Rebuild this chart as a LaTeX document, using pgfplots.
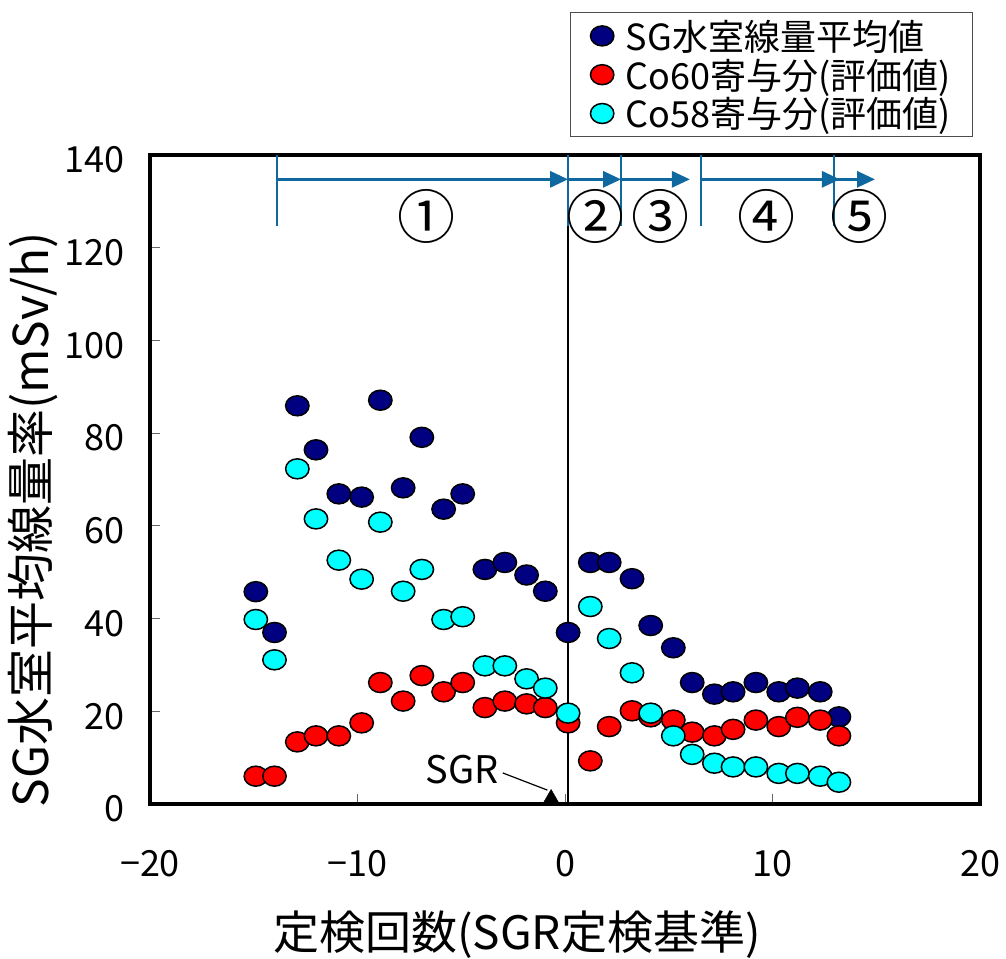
\documentclass[border=0pt]{standalone}
\usepackage{fontspec}
\setmainfont{Noto Sans CJK JP}
\usepackage{pgfplots}
\pgfplotsset{compat=1.18}
\usetikzlibrary{arrows.meta}
\definecolor{navyc}{RGB}{0,0,128}
\definecolor{redc}{RGB}{255,0,0}
\definecolor{cyanc}{RGB}{0,255,255}
\definecolor{arrblue}{RGB}{16,104,160}
\begin{document}
\begin{tikzpicture}
\path[use as bounding box] (-150pt,-154pt) rectangle (856pt,804pt);
\begin{axis}[
  at={(0pt,0pt)}, anchor=south west,
  scale only axis, width=830pt, height=649pt,
  xmin=-20, xmax=20, ymin=0, ymax=140,
  clip=false,
  xtick={-20,-10,0,10,20}, xticklabels={−20,−10,0,10,20},
  ytick={0,20,40,60,80,100,120,140},
  yticklabels={0,20,40,60,80,100,120,140},
  tick align=inside, xtick pos=bottom, ytick pos=left,
  major tick length=10pt,
  tick style={line width=1pt, black!60},
  axis line style={line width=3.5pt},
  xticklabel style={anchor=center, yshift=-60pt, font=\fontsize{36}{40}\selectfont},
  yticklabel style={anchor=east, inner sep=0pt, xshift=-25pt, yshift=-5pt, font=\fontsize{36}{40}\selectfont},
  xlabel={定検回数(SGR定検基準)},
  ylabel={SG水室平均線量率(mSv/h)},
  xlabel style={at={(axis description cs:0.442,-0.2018)}, anchor=center, font=\fontsize{46}{50}\selectfont},
  ylabel style={at={(axis description cs:-0.1415,0.4376)}, anchor=center, font=\fontsize{48}{52}\selectfont},
  legend style={at={(axis description cs:0.506,1.2203)}, anchor=north west,
    draw=black!70, line width=1pt, font=\fontsize{36}{40}\selectfont,
    inner xsep=20pt, inner ysep=4pt, row sep=0pt,
    nodes={inner ysep=3.5pt},
    /tikz/every odd column/.append style={column sep=10pt}},
  legend cell align=left,
]
\addplot[only marks, mark=*, mark size=10pt, mark options={xscale=1.17, draw=black, line width=1.5pt, fill=navyc}] coordinates {
(-14.9,45.8) (-14.0,37.0) (-12.9,85.9) (-12.0,76.4) (-10.9,66.9) (-9.8,66.2) (-8.9,87.1) (-7.8,68.2) (-6.9,79.1) (-5.85,63.6) (-4.93,66.9) (-3.86,50.6) (-2.9,52.1) (-1.85,49.4) (-0.95,45.9) (0.15,37.0) (1.22,52.1) (2.13,52.1) (3.23,48.6) (4.13,38.5) (5.22,33.7) (6.13,26.2) (7.2,23.7) (8.1,24.2) (9.2,26.2) (10.3,24.2) (11.2,25.0) (12.3,24.2) (13.2,18.8)
};
\addplot[only marks, mark=*, mark size=10pt, mark options={xscale=1.17, draw=black, line width=1.5pt, fill=redc}] coordinates {
(-14.9,6.0) (-14.0,6.0) (-12.9,13.4) (-12.0,14.7) (-10.9,14.7) (-9.8,17.5) (-8.9,26.2) (-7.8,22.2) (-6.9,27.7) (-5.85,24.2) (-4.93,26.2) (-3.86,20.8) (-2.9,22.2) (-1.85,21.6) (-0.95,20.8) (0.15,17.5) (1.22,9.3) (2.13,16.7) (3.23,20.1) (4.13,18.8) (5.22,18.1) (6.13,15.5) (7.2,14.7) (8.1,16.1) (9.2,18.1) (10.3,16.7) (11.2,18.7) (12.3,18.1) (13.2,14.7)
};
\addplot[only marks, mark=*, mark size=10pt, mark options={xscale=1.17, draw=black, line width=1.5pt, fill=cyanc}] coordinates {
(-14.9,39.8) (-14.0,31.1) (-12.9,72.3) (-12.0,61.5) (-10.9,52.6) (-9.8,48.5) (-8.9,60.8) (-7.8,45.9) (-6.9,50.6) (-5.85,39.8) (-4.93,40.4) (-3.86,29.8) (-2.9,29.8) (-1.85,27.0) (-0.95,25.0) (0.15,19.6) (1.22,42.6) (2.13,35.7) (3.23,28.3) (4.13,19.6) (5.22,14.7) (6.13,10.7) (7.2,8.8) (8.1,8.0) (9.2,8.0) (10.3,6.6) (11.2,6.6) (12.3,6.0) (13.2,4.7)
};
\legend{SG水室線量平均値, Co60寄与分(評価値), Co58寄与分(評価値)}
% SGR marker
\addplot[only marks, mark=triangle*, mark size=9pt, black, forget plot] coordinates {(-0.67,1.2)};
\draw[line width=1.2pt] (axis cs:-3.0,6.7) -- (axis cs:-0.85,3.0);
\node[font=\fontsize{38}{42}\selectfont] at (axis cs:-4.96,7.33) {SGR};
% vertical line at SGR
\draw[line width=2.2pt] (axis cs:0.15,0) -- (axis cs:0.15,140);
% period arrows
\draw[arrblue, line width=2pt] (axis cs:-13.88,124.7) -- (axis cs:-13.88,140);
\draw[arrblue, line width=2pt] (axis cs:0.15,124.7) -- (axis cs:0.15,140);
\draw[arrblue, line width=2pt] (axis cs:2.70,124.7) -- (axis cs:2.70,140);
\draw[arrblue, line width=2pt] (axis cs:6.55,124.7) -- (axis cs:6.55,140);
\draw[arrblue, line width=2pt] (axis cs:12.96,124.7) -- (axis cs:12.96,140);
\draw[arrblue, line width=3pt, -{Triangle[length=18pt,width=16pt]}] (axis cs:-13.88,134.75) -- (axis cs:0.15,134.75);
\draw[arrblue, line width=3pt, -{Triangle[length=18pt,width=16pt]}] (axis cs:0.15,134.75) -- (axis cs:2.70,134.75);
\draw[arrblue, line width=3pt, -{Triangle[length=18pt,width=16pt]}] (axis cs:2.70,134.75) -- (axis cs:6.02,134.75);
\draw[arrblue, line width=3pt, -{Triangle[length=18pt,width=16pt]}] (axis cs:6.55,134.75) -- (axis cs:13.25,134.75);
\draw[arrblue, line width=3pt, -{Triangle[length=18pt,width=16pt]}] (axis cs:12.96,134.75) -- (axis cs:14.94,134.75);
\node[font=\fontsize{58}{62}\selectfont] at (axis cs:-6.67,126.8) {①};
\node[font=\fontsize{58}{62}\selectfont] at (axis cs:1.45,126.8) {②};
\node[font=\fontsize{58}{62}\selectfont] at (axis cs:4.58,126.8) {③};
\node[font=\fontsize{58}{62}\selectfont] at (axis cs:9.72,126.8) {④};
\node[font=\fontsize{58}{62}\selectfont] at (axis cs:14.18,126.8) {⑤};
\end{axis}
\end{tikzpicture}
\end{document}
